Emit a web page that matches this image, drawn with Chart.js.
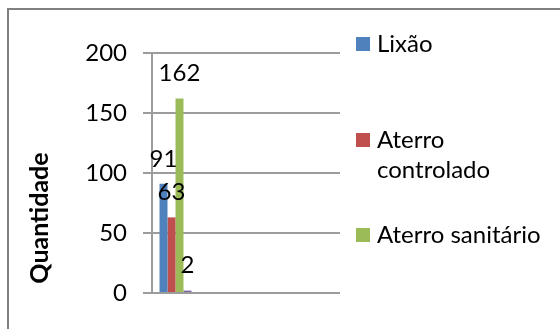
<!DOCTYPE html>
<html>
<head>
<meta charset="utf-8">
<script src="https://cdn.jsdelivr.net/npm/chart.js@4.4.1/dist/chart.umd.min.js"></script>
<style>
html,body{margin:0;padding:0;background:#fff;}
canvas{display:block;}
</style>
</head>
<body>
<canvas id="c" width="560" height="329"></canvas>
<script>
// ---- data ----
const categories = ['', '', '', ''];          // one filled group, remaining slots empty
const seriesNames = ['Lixão', 'Aterro controlado', 'Aterro sanitário', 'Outros'];
const lixao = [91];
const aterroControlado = [63];
const aterroSanitario = [162];
const outros = [2];
const seriesColors = ['#4F81BD', '#C0504D', '#9BBB59', '#8064A2'];
const legendCount = 3;                       // series shown in the legend
const yTicks = [0, 50, 100, 150, 200];
const axisTitle = 'Quantidade';

const FONT = 'Lato, "Open Sans", sans-serif';

const framePlugin = {
  id: 'frame',
  beforeDraw(chart) {
    const ctx = chart.ctx;
    ctx.save();
    ctx.fillStyle = '#fff';
    ctx.fillRect(0, 0, chart.width, chart.height);
    ctx.strokeStyle = '#808080';
    ctx.lineWidth = 2;
    ctx.strokeRect(8, 9, chart.width + 20, chart.height + 20);
    ctx.restore();
  }
};

const labelPlugin = {
  id: 'valueLabels',
  afterDatasetsDraw(chart) {
    const ctx = chart.ctx;
    ctx.save();
    ctx.font = '24px ' + FONT;
    ctx.fillStyle = '#000';
    ctx.textAlign = 'center';
    ctx.textBaseline = 'middle';
    chart.data.datasets.forEach((ds, i) => {
      const meta = chart.getDatasetMeta(i);
      meta.data.forEach((el, j) => {
        const v = ds.data[j];
        if (v === null || v === undefined) return;
        ctx.fillText(String(v), el.x, el.y - 25);
      });
    });
    ctx.restore();
  }
};

const legendPlugin = {
  id: 'sideLegend',
  afterDraw(chart) {
    const ctx = chart.ctx;
    const baselines = [52, 148, 243];
    const sqX = 356, textX = 377, maxW = 178, lineH = 30, sq = 14;
    ctx.save();
    ctx.font = '24px ' + FONT;
    ctx.textBaseline = 'alphabetic';
    ctx.textAlign = 'left';
    for (let i = 0; i < legendCount; i++) {
      const ds = chart.data.datasets[i];
      const b = baselines[i];
      ctx.fillStyle = ds.backgroundColor;
      ctx.fillRect(sqX, b - sq - 1, sq, sq);
      const words = ds.label.split(' ');
      const lines = [];
      let cur = '';
      words.forEach(w => {
        const t = cur ? cur + ' ' + w : w;
        if (ctx.measureText(t).width > maxW && cur) { lines.push(cur); cur = w; }
        else cur = t;
      });
      if (cur) lines.push(cur);
      ctx.fillStyle = '#000';
      lines.forEach((ln, k) => ctx.fillText(ln, textX, b + k * lineH));
    }
    ctx.restore();
  }
};

const titlePlugin = {
  id: 'yTitle',
  afterDraw(chart) {
    const ctx = chart.ctx;
    ctx.save();
    ctx.translate(40, 218);
    ctx.rotate(-Math.PI / 2);
    ctx.font = 'bold 25px ' + FONT;
    ctx.fillStyle = '#000';
    ctx.textAlign = 'center';
    ctx.textBaseline = 'middle';
    ctx.fillText(axisTitle, 0, 0);
    ctx.restore();
  }
};

const seriesData = [lixao, aterroControlado, aterroSanitario, outros];

new Chart(document.getElementById('c'), {
  type: 'bar',
  data: {
    labels: categories,
    datasets: seriesData.map((d, i) => ({
      label: seriesNames[i],
      data: d,
      backgroundColor: seriesColors[i],
      borderWidth: 0,
      categoryPercentage: 0.68,
      barPercentage: 1.0
    }))
  },
  options: {
    responsive: false,
    animation: false,
    devicePixelRatio: 1,
    layout: { padding: { left: 0, top: 53, right: 220, bottom: 36 } },
    plugins: { legend: { display: false }, tooltip: { enabled: false } },
    scales: {
      x: { display: false },
      y: {
        min: yTicks[0],
        max: yTicks[yTicks.length - 1],
        afterBuildTicks(scale) { scale.ticks = yTicks.map(v => ({ value: v })); },
        afterFit(scale) { scale.width = 152; },
        ticks: { font: { family: FONT, size: 24 }, color: '#000', padding: 16 },
        grid: { color: '#9c9c9c', lineWidth: 2, tickLength: 9, drawTicks: true },
        border: { color: '#9c9c9c', width: 2 }
      }
    }
  },
  plugins: [framePlugin, labelPlugin, legendPlugin, titlePlugin]
});
</script>
</body>
</html>
